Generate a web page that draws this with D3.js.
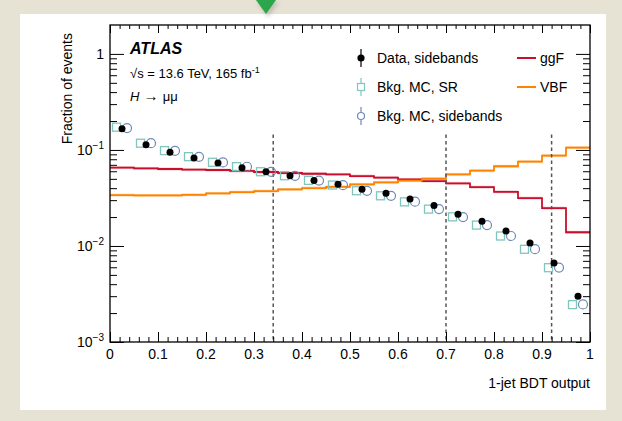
<!DOCTYPE html>
<html>
<head>
<meta charset="utf-8">
<script src="https://cdn.jsdelivr.net/npm/d3@7"></script>
<style>
  body { margin: 0; background: #e6e2d4; }
  svg { display: block; font-family: "Liberation Sans", Arial, sans-serif; }
</style>
</head>
<body>
<script>
// bin edges of the BDT output (20 bins of 0.05)
var binEdges = [0, 0.05, 0.1, 0.15, 0.2, 0.25, 0.3, 0.35, 0.4, 0.45, 0.5,
                0.55, 0.6, 0.65, 0.7, 0.75, 0.8, 0.85, 0.9, 0.95, 1];

// fraction of events per bin
var dataSidebands = [0.166, 0.113, 0.0946, 0.0825, 0.0731, 0.0653, 0.0593, 0.0539, 0.0482, 0.0438,
                     0.0389, 0.0353, 0.0308, 0.0264, 0.0214, 0.0181, 0.01435, 0.01074, 0.00664, 0.0030];
var bkgSR = [0.1726, 0.1175, 0.0984, 0.0851, 0.0744, 0.0670, 0.0593, 0.0539, 0.0482, 0.0431,
             0.0376, 0.0333, 0.0288, 0.0242, 0.0201, 0.0165, 0.0127, 0.00924, 0.00594, 0.00245];
var bkgSidebands = [0.1690, 0.1175, 0.0980, 0.0848, 0.0742, 0.0668, 0.0591, 0.0537, 0.0480, 0.0430,
                    0.0375, 0.0333, 0.0289, 0.0242, 0.0200, 0.0165, 0.0127, 0.00925, 0.00595, 0.00246];
var ggF = [0.0653, 0.0644, 0.0633, 0.0623, 0.0618, 0.0604, 0.0589, 0.0575, 0.0565, 0.0557,
           0.0535, 0.0514, 0.0494, 0.0474, 0.0449, 0.0410, 0.0366, 0.0315, 0.0248, 0.0139];
var VBF = [0.0339, 0.0336, 0.0336, 0.0341, 0.0353, 0.0364, 0.0373, 0.0388, 0.0401, 0.0413,
           0.0438, 0.0460, 0.0478, 0.0501, 0.0557, 0.0608, 0.0676, 0.0755, 0.0872, 0.1057];

// category boundaries
var boundaries = [0.34, 0.70, 0.92];

var xMajor = [0, 0.1, 0.2, 0.3, 0.4, 0.5, 0.6, 0.7, 0.8, 0.9, 1];
var yMajor = [1e-3, 1e-2, 1e-1, 1];
var yLabels = [["10", "\u22123"], ["10", "\u22122"], ["10", "\u22121"], ["1", ""]];

var W = 622, H = 421;
var margin = {left: 110, right: 32, top: 25, bottom: 79};

var svg = d3.select("body").append("svg")
  .attr("width", W)
  .attr("height", H);

// page decoration
var defs = svg.append("defs");
defs.append("filter").attr("id", "blur").append("feGaussianBlur").attr("stdDeviation", 2);
svg.append("rect").attr("x", 20).attr("y", 14).attr("width", 586).attr("height", 396).attr("fill", "#fff");
svg.append("path").attr("d", "M257,2 L279,2 L268,17 Z").attr("fill", "#999").attr("opacity", 0.5)
  .attr("filter", "url(#blur)");
svg.append("path").attr("d", "M256,0 L276,0 L266,14 Z").attr("fill", "#2ca64a");

var x = d3.scaleLinear().domain([0, 1]).range([margin.left, W - margin.right]);
var y = d3.scaleLog().domain([1e-3, 2]).range([H - margin.bottom, margin.top]);

var centers = d3.range(dataSidebands.length).map(i => (binEdges[i] + binEdges[i + 1]) / 2);

// uncertainty bands around the signal histograms
function band(vals, col) {
  svg.append("g").selectAll("rect").data(vals).join("rect")
    .attr("x", (d, i) => x(binEdges[i]))
    .attr("width", (d, i) => x(binEdges[i + 1]) - x(binEdges[i]))
    .attr("y", d => y(d * 1.035))
    .attr("height", d => y(d / 1.035) - y(d * 1.035))
    .attr("fill", col);
}
band(ggF, "#f3c2c6");
band(VBF, "#fdd6a8");

var step = d3.line().curve(d3.curveStepAfter).x(d => x(d[0])).y(d => y(d[1]));
function hist(vals, col) {
  var pts = vals.map((v, i) => [binEdges[i], v]);
  pts.push([binEdges[vals.length], vals[vals.length - 1]]);
  svg.append("path").attr("d", step(pts)).attr("fill", "none")
    .attr("stroke", col).attr("stroke-width", 1.8);
}
hist(ggF, "#c8102e");
hist(VBF, "#ff8200");

// dashed category boundaries
svg.append("g").selectAll("line").data(boundaries).join("line")
  .attr("x1", d => x(d)).attr("x2", d => x(d))
  .attr("y1", y(0.145)).attr("y2", y(1e-3))
  .attr("stroke", "#555").attr("stroke-width", 1.5).attr("stroke-dasharray", "3.5,3");

// background MC, SR (squares)
svg.append("g").selectAll("rect").data(bkgSR).join("rect")
  .attr("x", (d, i) => x(centers[i]) - 9.5)
  .attr("y", d => y(d) - 4)
  .attr("width", 8).attr("height", 8)
  .attr("fill", "none").attr("stroke", "#7fc6bd").attr("stroke-width", 1.3);

// background MC, sidebands (circles)
svg.append("g").selectAll("circle").data(bkgSidebands).join("circle")
  .attr("cx", (d, i) => x(centers[i]) + 5)
  .attr("cy", d => y(d))
  .attr("r", 4.5)
  .attr("fill", "none").attr("stroke", "#7189b8").attr("stroke-width", 1.2);

// data, sidebands
svg.append("g").selectAll("circle").data(dataSidebands).join("circle")
  .attr("cx", (d, i) => x(centers[i]))
  .attr("cy", d => y(d))
  .attr("r", 3.5)
  .attr("fill", "#000");

// axes
var xMinor = d3.range(0, 1.0001, 0.02).filter(v => Math.abs(v * 10 - Math.round(v * 10)) > 1e-6);
var yMinor = [];
[-3, -2, -1].forEach(k => { for (var m = 2; m <= 9; m++) yMinor.push(m * Math.pow(10, k)); });

function styleAxis(g) {
  g.select(".domain").remove();
  g.selectAll("line").attr("stroke", "#000").attr("stroke-width", 1);
}
var yB = H - margin.bottom, yT = margin.top, xL = margin.left, xR = W - margin.right;

svg.append("g").attr("transform", "translate(0," + yB + ")")
  .call(d3.axisBottom(x).tickValues(xMajor).tickSize(-10).tickFormat(""))
  .call(styleAxis);
svg.append("g").attr("transform", "translate(0," + yB + ")")
  .call(d3.axisBottom(x).tickValues(xMinor).tickSize(-5).tickFormat(""))
  .call(styleAxis);
svg.append("g").attr("transform", "translate(0," + yT + ")")
  .call(d3.axisTop(x).tickValues(xMajor).tickSize(-8).tickFormat(""))
  .call(styleAxis);
svg.append("g").attr("transform", "translate(0," + yT + ")")
  .call(d3.axisTop(x).tickValues(xMinor).tickSize(-4).tickFormat(""))
  .call(styleAxis);
svg.append("g").attr("transform", "translate(" + xL + ",0)")
  .call(d3.axisLeft(y).tickValues(yMajor).tickSize(-14).tickFormat(""))
  .call(styleAxis);
svg.append("g").attr("transform", "translate(" + xL + ",0)")
  .call(d3.axisLeft(y).tickValues(yMinor).tickSize(-7).tickFormat(""))
  .call(styleAxis);
svg.append("g").attr("transform", "translate(" + xR + ",0)")
  .call(d3.axisRight(y).tickValues(yMajor).tickSize(-14).tickFormat(""))
  .call(styleAxis);
svg.append("g").attr("transform", "translate(" + xR + ",0)")
  .call(d3.axisRight(y).tickValues(yMinor).tickSize(-7).tickFormat(""))
  .call(styleAxis);

// frame
svg.append("rect").attr("x", xL).attr("y", yT).attr("width", xR - xL).attr("height", yB - yT)
  .attr("fill", "none").attr("stroke", "#000").attr("stroke-width", 1.3);

// tick labels
svg.append("g").selectAll("text").data(xMajor).join("text")
  .attr("x", d => x(d)).attr("y", yB + 17)
  .attr("text-anchor", "middle").attr("font-size", 14)
  .text(d => d === 0 || d === 1 ? d : d.toFixed(1));

var yl = svg.append("g").selectAll("text").data(yMajor).join("text")
  .attr("x", xL - 6).attr("y", d => y(d) + 5)
  .attr("text-anchor", "end").attr("font-size", 14);
yl.append("tspan").text((d, i) => yLabels[i][0]);
yl.append("tspan").attr("dy", -6).attr("font-size", 10).text((d, i) => yLabels[i][1]);

// axis titles
svg.append("text").attr("x", xR).attr("y", yB + 46)
  .attr("text-anchor", "end").attr("font-size", 14).text("1-jet BDT output");
svg.append("text").attr("transform", "translate(72," + (yT + 8) + ") rotate(-90)")
  .attr("text-anchor", "end").attr("font-size", 14).text("Fraction of events");

// ATLAS label
svg.append("text").attr("x", 130).attr("y", 54).attr("font-size", 16)
  .attr("font-weight", "bold").attr("font-style", "italic").text("ATLAS");
var s = svg.append("text").attr("x", 130).attr("y", 78).attr("font-size", 13);
s.append("tspan").text("\u221As = 13.6 TeV, 165 fb");
s.append("tspan").attr("dy", -5).attr("font-size", 9).text("-1");
var h = svg.append("text").attr("x", 130).attr("y", 101).attr("font-size", 13);
h.append("tspan").attr("font-style", "italic").text("H");
h.append("tspan").attr("font-size", 15).text(" \u2192 ");
h.append("tspan").text("\u03BC\u03BC");

// legend
var legX = 361, legT = 377;
var leg = svg.append("g");
function errBar(cx, cy, col) {
  leg.append("line").attr("x1", cx).attr("x2", cx).attr("y1", cy - 9).attr("y2", cy + 9)
    .attr("stroke", col).attr("stroke-width", 1.2);
}
errBar(legX, 58, "#000");
leg.append("circle").attr("cx", legX).attr("cy", 58).attr("r", 3.6).attr("fill", "#000");
errBar(legX, 87, "#7fc6bd");
leg.append("rect").attr("x", legX - 3.5).attr("y", 83.5).attr("width", 7).attr("height", 7)
  .attr("fill", "#fff").attr("stroke", "#7fc6bd").attr("stroke-width", 1.2);
errBar(legX, 116, "#7189b8");
leg.append("circle").attr("cx", legX).attr("cy", 116).attr("r", 3.5)
  .attr("fill", "#fff").attr("stroke", "#7189b8").attr("stroke-width", 1.2);
[["Data, sidebands", 58], ["Bkg. MC, SR", 87], ["Bkg. MC, sidebands", 116]].forEach(e => {
  leg.append("text").attr("x", legT).attr("y", e[1] + 5).attr("font-size", 14).text(e[0]);
});
[["ggF", "#c8102e", 58], ["VBF", "#ff8200", 87]].forEach(e => {
  leg.append("line").attr("x1", 517).attr("x2", 536).attr("y1", e[2]).attr("y2", e[2])
    .attr("stroke", e[1]).attr("stroke-width", 2);
  leg.append("text").attr("x", 540).attr("y", e[2] + 5).attr("font-size", 14).text(e[0]);
});
</script>
</body>
</html>
